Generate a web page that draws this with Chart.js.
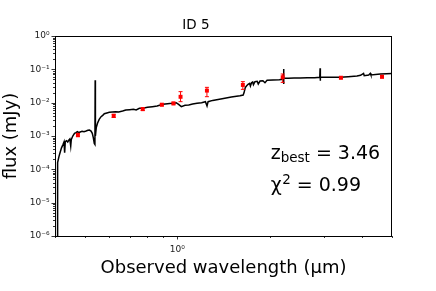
<!DOCTYPE html>
<html>
<head>
<meta charset="utf-8">
<script src="https://cdn.jsdelivr.net/npm/chart.js@4.4.1/dist/chart.umd.min.js"></script>
<style>
  html, body { margin: 0; padding: 0; background: #fff; }
</style>
</head>
<body>
<canvas id="sed" width="436" height="291"></canvas>
<script>
// best-fit template in the observed frame (um, mJy)
const modelWave = [0.4062, 0.4068, 0.409, 0.412, 0.416, 0.420, 0.425, 0.428, 0.430, 0.432,
  0.436, 0.440, 0.444, 0.447, 0.450, 0.452, 0.457, 0.463, 0.468, 0.473,
  0.478, 0.483, 0.490, 0.497, 0.505, 0.512, 0.518, 0.524, 0.529, 0.533,
  0.537, 0.5395, 0.5405, 0.5415, 0.545, 0.550, 0.557, 0.565, 0.572, 0.579,
  0.590, 0.601, 0.615, 0.630, 0.645, 0.664, 0.680, 0.700, 0.720, 0.735,
  0.753, 0.780, 0.800, 0.830, 0.860, 0.897, 0.930, 0.960, 0.992, 1.010,
  1.031, 1.060, 1.090, 1.122, 1.160, 1.200, 1.235, 1.250, 1.260, 1.304,
  1.400, 1.500, 1.600, 1.639, 1.650, 1.665, 1.680, 1.700, 1.720, 1.730,
  1.745, 1.760, 1.770, 1.790, 1.820, 1.835, 1.860, 1.900, 1.930, 1.960,
  2.050, 2.150, 2.200, 2.215, 2.218, 2.221, 2.224, 2.300, 2.400, 2.510,
  2.650, 2.800, 2.910, 2.917, 2.920, 2.925, 3.100, 3.392, 3.600, 3.846,
  3.950, 4.040, 4.060, 4.200, 4.250, 4.270, 4.583, 4.800, 5.050];
const modelFlux = [1e-7, 1.0e-4, 1.6e-4, 2.4e-4, 3.3e-4, 4.4e-4, 5.62e-4, 6.61e-4, 3.16e-4, 6.76e-4,
  7.24e-4, 6.61e-4, 7.59e-4, 8.13e-4, 5.01e-4, 7.94e-4, 1.0e-3, 1.20e-3, 1.26e-3, 1.35e-3,
  1.26e-3, 1.32e-3, 1.38e-3, 1.35e-3, 1.41e-3, 1.48e-3, 1.51e-3, 1.41e-3, 1.20e-3, 8.9e-4,
  6.0e-4, 5.6e-4, 4.7e-2, 1.0e-3, 1.78e-3, 2.40e-3, 3.16e-3, 3.80e-3, 4.17e-3, 4.68e-3,
  4.90e-3, 5.13e-3, 5.25e-3, 5.37e-3, 5.25e-3, 5.62e-3, 6.03e-3, 6.17e-3, 6.31e-3, 6.03e-3,
  6.76e-3, 6.92e-3, 7.24e-3, 7.59e-3, 7.94e-3, 8.91e-3, 9.33e-3, 9.55e-3, 1.0e-2, 8.91e-3,
  7.59e-3, 8.32e-3, 8.51e-3, 9.12e-3, 9.55e-3, 1.0e-2, 1.07e-2, 7.94e-3, 1.07e-2, 1.17e-2,
  1.32e-2, 1.48e-2, 1.62e-2, 1.70e-2, 2.0e-2, 2.82e-2, 3.16e-2, 3.55e-2, 3.80e-2, 3.16e-2,
  3.98e-2, 4.17e-2, 3.47e-2, 4.27e-2, 4.37e-2, 3.63e-2, 4.47e-2, 4.57e-2, 3.98e-2, 4.68e-2,
  4.79e-2, 4.90e-2, 5.01e-2, 5.37e-2, 3.63e-2, 1.02e-1, 5.37e-2, 5.37e-2, 5.50e-2, 5.50e-2,
  5.62e-2, 5.62e-2, 5.75e-2, 1.07e-1, 4.57e-2, 5.75e-2, 5.75e-2, 5.75e-2, 6.03e-2, 6.31e-2,
  6.61e-2, 7.59e-2, 6.46e-2, 6.76e-2, 7.59e-2, 6.76e-2, 7.24e-2, 7.41e-2, 7.59e-2];

// observed photometry
const photWave = [0.475, 0.621, 0.772, 0.891, 0.972, 1.025, 1.249, 1.635, 2.204, 3.41, 4.64];
const photFlux = [1.07e-3, 4.0e-3, 6.4e-3, 8.7e-3, 9.5e-3, 1.5e-2, 2.3e-2, 3.4e-2, 5.8e-2, 5.6e-2, 6.0e-2];
const photLo = [0.95e-3, 3.6e-3, 5.8e-3, 8.0e-3, 8.7e-3, 1.07e-2, 1.51e-2, 2.51e-2, 4.07e-2, 5.2e-2, 5.5e-2];
const photHi = [1.2e-3, 4.5e-3, 7.0e-3, 9.4e-3, 1.03e-2, 2.14e-2, 2.88e-2, 4.27e-2, 7.24e-2, 6.0e-2, 6.5e-2];

const xTickValues = [0.4, 0.5, 0.6, 0.7, 0.8, 0.9, 1, 2, 3, 4, 5];
const xTickLabels = { 1: '10⁰' };
const yTickValues = [];
for (let e = -6; e <= 0; e++) {
  for (let m = 1; m <= 9; m++) {
    if (e === 0 && m > 1) break;
    yTickValues.push(m * Math.pow(10, e));
  }
}
const yTickLabels = ['10⁻⁶', '10⁻⁵', '10⁻⁴', '10⁻³', '10⁻²', '10⁻¹', '10⁰'];

const zBest = '3.46';
const chi2 = '0.99';

const FONT = '"DejaVu Sans", sans-serif';

function isDecade(v) {
  const l = Math.log10(v);
  return Math.abs(l - Math.round(l)) < 1e-6;
}

const extras = {
  id: 'extras',
  afterDatasetsDraw(chart) {
    const ctx = chart.ctx;
    const xs = chart.scales.x, ys = chart.scales.y;
    ctx.save();
    ctx.strokeStyle = 'red';
    ctx.lineWidth = 1;
    for (let i = 0; i < photWave.length; i++) {
      const px = xs.getPixelForValue(photWave[i]);
      const lo = ys.getPixelForValue(photLo[i]);
      const hi = ys.getPixelForValue(photHi[i]);
      ctx.beginPath();
      ctx.moveTo(px, lo); ctx.lineTo(px, hi);
      ctx.moveTo(px - 2, lo); ctx.lineTo(px + 2, lo);
      ctx.moveTo(px - 2, hi); ctx.lineTo(px + 2, hi);
      ctx.stroke();
    }
    ctx.restore();
  },
  afterDraw(chart) {
    const ctx = chart.ctx;
    const a = chart.chartArea;
    const xs = chart.scales.x, ys = chart.scales.y;
    ctx.save();
    // frame
    ctx.strokeStyle = '#000';
    ctx.lineWidth = 1;
    ctx.strokeRect(a.left + 0.5, a.top + 0.5, a.right - a.left - 1, a.bottom - a.top);
    // ticks
    ctx.lineWidth = 0.8;
    ctx.beginPath();
    xTickValues.forEach(v => {
      const px = Math.round(xs.getPixelForValue(v)) + 0.5;
      const len = isDecade(v) ? 3.5 : 2;
      ctx.moveTo(px, a.bottom); ctx.lineTo(px, a.bottom + len);
    });
    yTickValues.forEach(v => {
      const py = Math.round(ys.getPixelForValue(v)) + 0.5;
      const len = isDecade(v) ? 3.5 : 2;
      ctx.moveTo(a.left, py); ctx.lineTo(a.left - len, py);
    });
    ctx.stroke();

    // fit annotations
    ctx.fillStyle = '#000';
    ctx.textBaseline = 'alphabetic';
    const x0 = a.left + 0.64 * (a.right - a.left);
    const y1 = a.top + 0.617 * (a.bottom - a.top);
    const y2 = a.top + 0.775 * (a.bottom - a.top);
    const big = '19px ' + FONT, small = '13.5px ' + FONT;
    let x = x0;
    ctx.font = big; ctx.fillText('z', x, y1); x += ctx.measureText('z').width;
    ctx.font = small; ctx.fillText('best', x, y1 + 3); x += ctx.measureText('best').width;
    ctx.font = big; ctx.fillText(' = ' + zBest, x, y1);
    x = x0;
    ctx.font = big; ctx.fillText('χ', x, y2); x += ctx.measureText('χ').width + 0.5;
    ctx.font = small; ctx.fillText('2', x, y2 - 7); x += ctx.measureText('2').width;
    ctx.font = big; ctx.fillText(' = ' + chi2, x, y2);
    ctx.restore();
  }
};

new Chart(document.getElementById('sed'), {
  type: 'scatter',
  data: {
    datasets: [
      {
        label: 'photometry',
        data: photWave.map((w, i) => ({ x: w, y: photFlux[i] })),
        pointStyle: 'rect',
        pointRadius: 2.8,
        backgroundColor: 'red',
        borderWidth: 0,
        order: 0,
      },
      {
        label: 'model',
        data: modelWave.map((w, i) => ({ x: w, y: modelFlux[i] })),
        showLine: true,
        borderColor: '#000',
        borderWidth: 1.5,
        pointRadius: 0,
        tension: 0,
        order: 1,
      },
    ],
  },
  options: {
    responsive: false,
    animation: false,
    devicePixelRatio: 1,
    layout: { padding: { left: 0, right: 44, top: 0, bottom: 0 } },
    plugins: {
      legend: { display: false },
      tooltip: { enabled: false },
      title: {
        display: true,
        text: 'ID 5',
        color: '#000',
        font: { family: FONT, size: 13.5, weight: 'normal', lineHeight: 1.2 },
        padding: { top: 17.4, bottom: 2.4 },
      },
    },
    scales: {
      x: {
        type: 'logarithmic',
        min: 0.4,
        max: 5.0,
        afterBuildTicks: s => { s.ticks = xTickValues.map(v => ({ value: v })); },
        afterFit: s => { s.height = 55; },
        grid: { display: false, drawTicks: true, tickLength: 3.5 },
        border: { display: false },
        ticks: {
          autoSkip: false,
          maxRotation: 0,
          padding: 5,
          color: '#222',
          font: { family: FONT, size: 9 },
          callback: v => xTickLabels[v] || '',
        },
        title: {
          display: true,
          text: 'Observed wavelength (µm)',
          color: '#000',
          font: { family: FONT, size: 18, lineHeight: 1.2 },
          padding: { top: 0, bottom: 11.7 },
        },
      },
      y: {
        type: 'logarithmic',
        min: 1e-6,
        max: 1,
        afterBuildTicks: s => { s.ticks = yTickValues.map(v => ({ value: v })); },
        afterFit: s => { s.width = 55; },
        grid: { display: false, drawTicks: true, tickLength: 3.5 },
        border: { display: false },
        ticks: {
          autoSkip: false,
          padding: 2,
          color: '#222',
          font: { family: FONT, size: 9 },
          callback: v => isDecade(v) ? yTickLabels[Math.round(Math.log10(v)) + 6] : '',
        },
        title: {
          display: true,
          text: 'flux (mJy)',
          color: '#000',
          font: { family: FONT, size: 18, lineHeight: 1.2 },
          padding: { top: 1, bottom: 0 },
        },
      },
    },
  },
  plugins: [extras],
});
</script>
</body>
</html>
